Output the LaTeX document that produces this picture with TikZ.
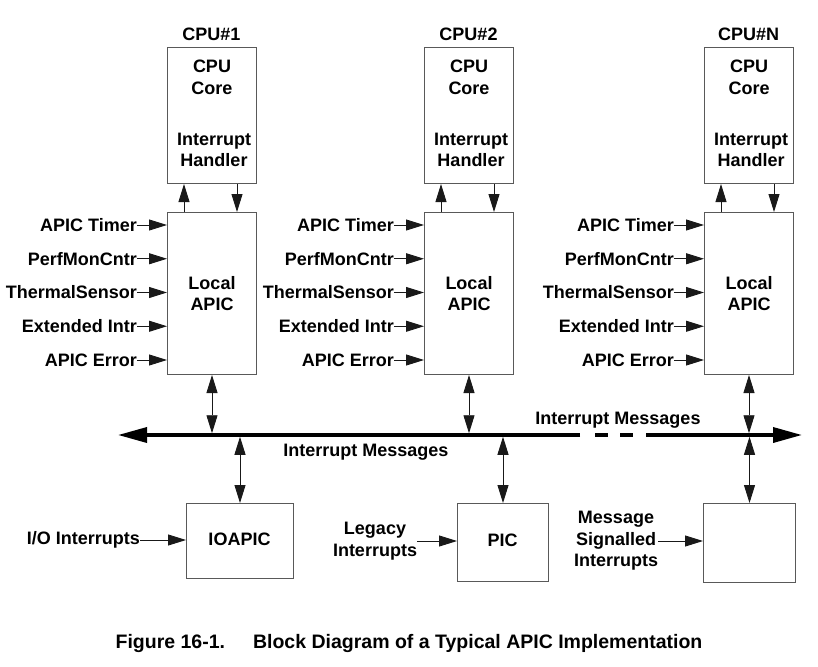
\documentclass[tikz,border=0pt]{standalone}
\usepackage{fontspec}
\setmainfont{Liberation Sans}
\usetikzlibrary{arrows.meta}
\begin{document}
\begin{tikzpicture}[x=1pt,y=-1pt,
  txt/.style={font=\bfseries\fontsize{18}{21.5}\selectfont, inner sep=0pt, align=center},
  box/.style={draw=black!65, line width=1pt, inner sep=0pt, anchor=north west},
  tipa/.tip={Triangle[length=18pt,width=11pt]},
  arr/.style={draw=black!90, line width=0.9pt, -tipa},
  dbl/.style={draw=black!90, line width=0.9pt, tipa-tipa},
  bus/.style={line width=3.5pt},
  bustip/.tip={Triangle[length=29pt,width=15pt]}]
\useasboundingbox (0,0) rectangle (818,666);
\fill[white] (0,0) rectangle (818,666);

% bus
\coordinate (busL) at (118,435);
\coordinate (busR) at (802,435);
\coordinate (dA) at (580,435);
\coordinate (dB) at (595,435);
\coordinate (dC) at (608,435);
\coordinate (dD) at (620,435);
\coordinate (dE) at (633,435);
\coordinate (dF) at (646,435);
\draw[bus,-bustip] (dA) -- (busL);
\draw[bus] (dB) -- (dC);
\draw[bus] (dD) -- (dE);
\draw[bus,-bustip] (dF) -- (busR);

\foreach \n/\x in {1/167,2/424,N/704} {
  \node[box, minimum width=89pt, minimum height=136pt] (cpu\n) at (\x,47) {};
  \node[txt] (head\n) at (\x+44.5,34) {CPU\#\n};
  \node[txt] (core\n) at (\x+45,77.5) {CPU\\Core};
  \node[txt] (ih\n) at (\x+47,150) {Interrupt\\Handler};
  \node[box, minimum width=89pt, minimum height=162pt] (apic\n) at (\x,212) {};
  \node[txt] (local\n) at (\x+45,293.5) {Local\\APIC};
  \draw[arr] ([xshift=17pt]apic\n.north west) -- ([xshift=17pt]cpu\n.south west);
  \draw[arr] ([xshift=70pt]cpu\n.south west) -- ([xshift=70pt]apic\n.north west);
  \foreach \t [count=\k] in {APIC Timer, PerfMonCntr, ThermalSensor, Extended Intr, APIC Error} {
    \node[txt, anchor=east] (in\n-\k) at (\x-30,225+33.75*\k-33.75) {\t};
    \draw[arr] (in\n-\k.east) -- (in\n-\k.east -| apic\n.west);
  }
  \draw[dbl, shorten >=1.75pt] (apic\n.south) -- (apic\n.south |- busL);
}

\node[txt] (msgup) at (618,420) {Interrupt Messages};
\node[txt] (msglo) at (366,452) {Interrupt Messages};

% bottom devices
\node[box, minimum width=107pt, minimum height=75pt] (ioapic) at (186,503) {};
\node[txt] (ioapictxt) at (239.5,539) {IOAPIC};
\node[box, minimum width=91pt, minimum height=78pt] (pic) at (457,503) {};
\node[txt] (pictxt) at (502.5,540) {PIC};
\node[box, minimum width=92pt, minimum height=79pt] (msibox) at (703,503) {};

\draw[dbl, shorten <=1.75pt] (ioapic.north |- busL) -- (ioapic.north);
\draw[dbl, shorten <=1.75pt] (pic.north |- busL) -- (pic.north);
\draw[dbl, shorten <=1.75pt] (msibox.north |- busL) -- (msibox.north);

\node[txt, anchor=east] (ioin) at (140,540) {I/O Interrupts};
\draw[arr] (ioin.east) -- (ioin.east -| ioapic.west);
\node[txt] (legin) at (375,541) {Legacy\\Interrupts};
\draw[arr] (legin.east) -- (legin.east -| pic.west);
\node[txt] (msiin) at (616,541) {Message\\Signalled\\Interrupts};
\draw[arr] (msiin.east) -- (msiin.east -| msibox.west);

\node[txt, font=\bfseries\fontsize{19.5}{22}\selectfont] (caption) at (409,643) {Figure 16-1.\hspace{28pt}Block Diagram of a Typical APIC Implementation};
\end{tikzpicture}
\end{document}
